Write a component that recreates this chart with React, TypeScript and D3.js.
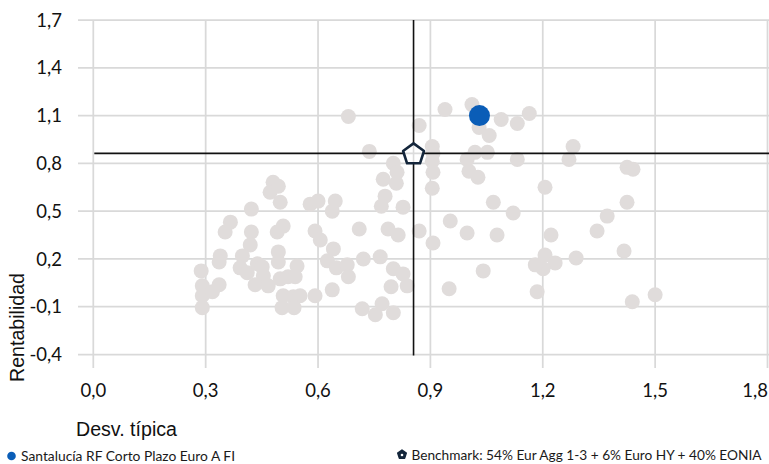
import React from "react";
import * as d3 from "d3";

const W = 769;
const H = 464;

const xTicks = [0, 0.3, 0.6, 0.9, 1.2, 1.5, 1.8];
const yTicks = [-0.4, -0.1, 0.2, 0.5, 0.8, 1.1, 1.4, 1.7];

// peer funds: [desv. típica, rentabilidad]
const peerX = [
  0.288, 0.291, 0.291, 0.291, 0.318, 0.336, 0.339, 0.336, 0.352, 0.366,
  0.422, 0.422, 0.419, 0.398, 0.392, 0.411, 0.438, 0.454, 0.432, 0.467,
  0.494, 0.494, 0.499, 0.520, 0.544, 0.539, 0.507, 0.504, 0.534, 0.552,
  0.536, 0.592, 0.638, 0.472, 0.480, 0.494, 0.499, 0.507, 0.491, 0.451,
  0.579, 0.600, 0.646, 0.638, 0.592, 0.606, 0.641, 0.625, 0.649, 0.678,
  0.681, 0.681, 0.737, 0.710, 0.721, 0.766, 0.801, 0.827, 0.795, 0.838,
  0.718, 0.753, 0.771, 0.801, 0.801, 0.811, 0.774, 0.809, 0.779, 0.769,
  0.827, 0.787, 0.814, 0.870, 0.907, 0.870, 0.905, 0.907, 0.905, 0.907,
  0.905, 0.939, 1.011, 1.030, 1.057, 1.089, 1.132, 1.164, 1.019, 1.052,
  0.998, 1.003, 1.027, 1.132, 1.206, 1.068, 1.121, 0.953, 0.998, 1.078,
  0.950, 1.041, 1.222, 1.206, 1.233, 1.201, 1.180, 1.289, 1.185, 1.281,
  1.270, 1.425, 1.441, 1.425, 1.372, 1.345, 1.417, 1.439, 1.500,
];
const peerY = [
  0.125, 0.031, -0.031, -0.106, -0.006, 0.038, 0.219, 0.181, 0.369, 0.431,
  0.513, 0.369, 0.288, 0.219, 0.144, 0.113, 0.169, 0.094, 0.038, 0.031,
  0.244, 0.181, 0.075, 0.088, 0.156, 0.088, -0.031, -0.106, -0.038, -0.031,
  -0.106, -0.031, 0.006, 0.619, 0.681, 0.656, 0.556, 0.406, 0.369, 0.150,
  0.544, 0.563, 0.563, 0.500, 0.375, 0.319, 0.263, 0.188, 0.144, 0.163,
  0.088, 1.094, 0.875, 0.388, 0.200, 0.213, 0.138, 0.106, 0.025, 0.031,
  -0.113, -0.150, -0.081, -0.138, 0.800, 0.744, 0.700, 0.675, 0.594, 0.531,
  0.525, 0.388, 0.350, 0.375, 0.300, 1.038, 0.906, 0.863, 0.813, 0.744,
  0.644, 1.138, 1.169, 1.025, 0.975, 1.075, 1.050, 1.113, 0.869, 0.869,
  0.825, 0.750, 0.713, 0.825, 0.650, 0.556, 0.488, 0.438, 0.363, 0.350,
  0.013, 0.125, 0.350, 0.225, 0.175, 0.138, 0.163, 0.206, -0.006, 0.906,
  0.825, 0.775, 0.763, 0.556, 0.469, 0.375, 0.250, -0.069, -0.025,
];

const fundLabel = "Santalucía RF Corto Plazo Euro A FI";
const fundPoint = [1.031, 1.1];
const benchLabel = "Benchmark: 54% Eur Agg 1-3 + 6% Euro HY + 40% EONIA";
const benchPoint = [0.855, 0.8625];

const fmt = (v: number) => d3.format(".1f")(v).replace(".", ",").replace("−", "-");

function pentagon(cx: number, cy: number, r: number) {
  const pts = d3.range(5).map((i) => {
    const a = -Math.PI / 2 + (i * 2 * Math.PI) / 5;
    return [cx + r * Math.cos(a), cy + r * Math.sin(a)] as [number, number];
  });
  return d3.line()(pts.concat([pts[0]])) + "Z";
}

export default function App() {
  const x = d3.scaleLinear().domain([0, 1.8]).range([93.3, 767.5]);
  const y = d3.scaleLinear().domain([-0.4, 1.7]).range([354.5, 20]);
  const grid = "#d9d9d9";
  const tickFont = "Lato, 'Noto Sans', sans-serif";
  const titleFont = "'Liberation Sans', Arial, sans-serif";

  const peers = peerX.map((v, i) => [v, peerY[i]]);

  return (
    <svg
      width={W}
      height={H}
      style={{ position: "absolute", left: 0, top: 0, background: "#fff" }}
    >
      {/* gridlines */}
      {yTicks.map((t) => (
        <line key={"gy" + t} x1={78} x2={W} y1={y(t)} y2={y(t)} stroke={grid} strokeWidth={1.75} />
      ))}
      {xTicks.map((t) => (
        <line key={"gx" + t} x1={x(t)} x2={x(t)} y1={y(1.7) + 1} y2={368} stroke={grid} strokeWidth={1.75} />
      ))}

      {/* tick labels */}
      {yTicks.map((t) => (
        <text
          key={"ty" + t}
          x={62}
          y={y(t)}
          dy="0.36em"
          textAnchor="end"
          fontFamily={tickFont}
          fontSize={18.5}
          fill="#111"
        >
          {fmt(t)}
        </text>
      ))}
      {xTicks.map((t, i) => (
        <text
          key={"tx" + t}
          x={i === xTicks.length - 1 ? 768 : x(t)}
          y={397}
          textAnchor={i === xTicks.length - 1 ? "end" : "middle"}
          fontFamily={tickFont}
          fontSize={18.5}
          fill="#111"
        >
          {fmt(t)}
        </text>
      ))}

      {/* axis titles */}
      <text x={76} y={436} fontFamily={titleFont} fontSize={19.5} fill="#111" textLength={101} lengthAdjust="spacingAndGlyphs">
        Desv. típica
      </text>
      <text
        transform={`translate(24,327.5) rotate(-90)`}
        textAnchor="middle"
        fontFamily={titleFont}
        fontSize={19.5}
        fill="#111"
        textLength={109}
        lengthAdjust="spacingAndGlyphs"
      >
        Rentabilidad
      </text>

      {/* peers */}
      {peers.map((p, i) => (
        <circle key={"p" + i} cx={x(p[0])} cy={y(p[1])} r={7.5} fill="#e0dcdb" />
      ))}

      {/* benchmark crosshair */}
      <line x1={x(0) + 1} x2={W} y1={y(benchPoint[1])} y2={y(benchPoint[1])} stroke="#111" strokeWidth={1.6} />
      <line x1={x(benchPoint[0])} x2={x(benchPoint[0])} y1={y(1.7)} y2={y(-0.4) + 1} stroke="#111" strokeWidth={1.6} />

      {/* fund */}
      <circle cx={x(fundPoint[0])} cy={y(fundPoint[1])} r={10.5} fill="#0a5db7" />

      {/* benchmark marker */}
      <path
        d={pentagon(x(benchPoint[0]), y(benchPoint[1]) + 1, 11)}
        fill="#ffffff"
        fillOpacity={0.85}
        stroke="#14263b"
        strokeWidth={2.6}
        strokeLinejoin="round"
      />

      {/* legend */}
      <circle cx={11.5} cy={456} r={4.3} fill="#0a5db7" />
      <text x={21} y={460.5} fontFamily={tickFont} fontSize={13.5} fill="#1a1a1a" textLength={214} lengthAdjust="spacingAndGlyphs">
        {fundLabel}
      </text>
      <path d={pentagon(402, 454.5, 4.5)} fill="#14263b" stroke="#14263b" strokeWidth={1.5} strokeLinejoin="round" />
      <circle cx={402} cy={455} r={1.3} fill="#ffffff" />
      <text x={411.5} y={459.5} fontFamily={tickFont} fontSize={13.5} fill="#1a1a1a" textLength={350} lengthAdjust="spacingAndGlyphs">
        {benchLabel}
      </text>
    </svg>
  );
}
